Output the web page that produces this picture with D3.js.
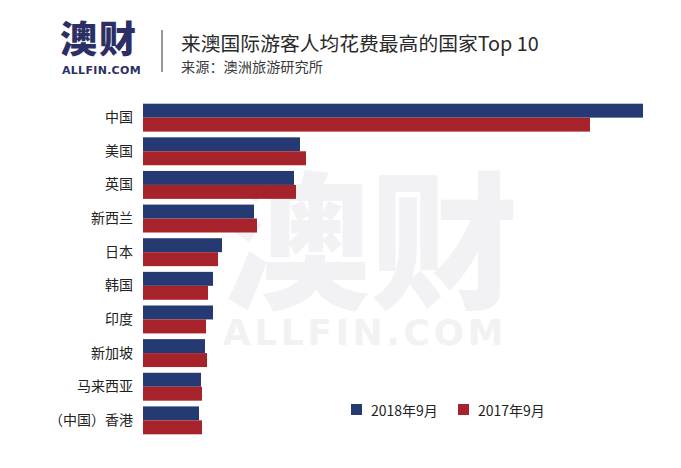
<!DOCTYPE html>
<html><head><meta charset="utf-8">
<script src="https://cdn.jsdelivr.net/npm/d3@7"></script>
<style>
html,body{margin:0;padding:0;background:#fff;}
svg{display:block;font-family:"Noto Sans CJK SC","Noto Sans",sans-serif;}
</style></head>
<body>
<svg id="chart" width="681" height="468"></svg>
<script>
const categories = ["中国","美国","英国","新西兰","日本","韩国","印度","新加坡","马来西亚","（中国）香港"];
const series2018 = [500,157,151,111,79,70,70,62,58,56];
const series2017 = [447,163,153,114,75,65,63,64,59,59];
const seriesNames = ["2018年9月","2017年9月"];
const colors = ["#253a72","#a6232c"];

const svg = d3.select("#chart");

// watermark
const wm = svg.append("g").attr("fill","#f2f2f5");
wm.append("text").attr("x",370).attr("y",297).attr("text-anchor","middle")
  .attr("font-size",148).attr("font-weight",900).text("澳财");
wm.append("text").attr("x",365).attr("y",345).attr("text-anchor","middle")
  .attr("font-family","DejaVu Sans, sans-serif")
  .attr("font-size",36).attr("font-weight",700).attr("letter-spacing",3.6).text("ALLFIN.COM");

// logo
svg.append("text").attr("x",60).attr("y",52.5).attr("font-size",37).attr("font-weight",900)
  .attr("fill","#2c2f66").attr("letter-spacing",2).text("澳财");
svg.append("text").attr("x",62).attr("y",74).attr("font-size",11).attr("font-weight",700)
  .attr("font-family","DejaVu Sans, sans-serif").attr("fill","#2c2f66").attr("letter-spacing",0.3).text("ALLFIN.COM");
svg.append("line").attr("x1",162).attr("x2",162).attr("y1",30).attr("y2",72)
  .attr("stroke","#555").attr("stroke-width",1.2);
svg.append("text").attr("x",181).attr("y",51).attr("font-size",19.8).attr("fill","#2a2a2a")
  .text("来澳国际游客人均花费最高的国家Top 10");
svg.append("text").attr("x",181).attr("y",72).attr("font-size",14.2).attr("fill","#3a3a3a")
  .text("来源：澳洲旅游研究所");

// scales
const x = d3.scaleLinear().domain([0,500]).range([143,643]);
const y = d3.scaleBand().domain(categories).range([101,437]).paddingInner(0.17).paddingOuter(0.08);
const sub = d3.scaleBand().domain([0,1]).range([0,y.bandwidth()]);

const data = categories.map((c,i)=>({c, v:[series2018[i],series2017[i]]}));

const g = svg.append("g");
const rows = g.selectAll("g.row").data(data).join("g").attr("class","row")
  .attr("transform",d=>`translate(0,${y(d.c)})`);
rows.selectAll("rect").data(d=>d.v.map((v,k)=>({v,k}))).join("rect")
  .attr("x",x(0)).attr("y",d=>sub(d.k)).attr("height",sub.bandwidth())
  .attr("width",d=>x(d.v)-x(0)).attr("fill",d=>colors[d.k]);

// axis labels
const axis = d3.axisLeft(y).tickSize(0).tickPadding(10);
const ag = svg.append("g").attr("transform",`translate(${x(0)},0)`).call(axis);
ag.select(".domain").remove();
ag.selectAll("text").attr("font-size",14).attr("fill","#222")
  .attr("font-family","Noto Sans CJK SC, sans-serif");

// legend
const lg = svg.append("g");
const lx = [351,458];
seriesNames.forEach((n,i)=>{
  lg.append("rect").attr("x",lx[i]).attr("y",404).attr("width",11).attr("height",11).attr("fill",colors[i]);
  lg.append("text").attr("x",lx[i]+20).attr("y",415.5).attr("font-size",14).attr("fill","#222").text(n);
});
</script>
</body></html>
